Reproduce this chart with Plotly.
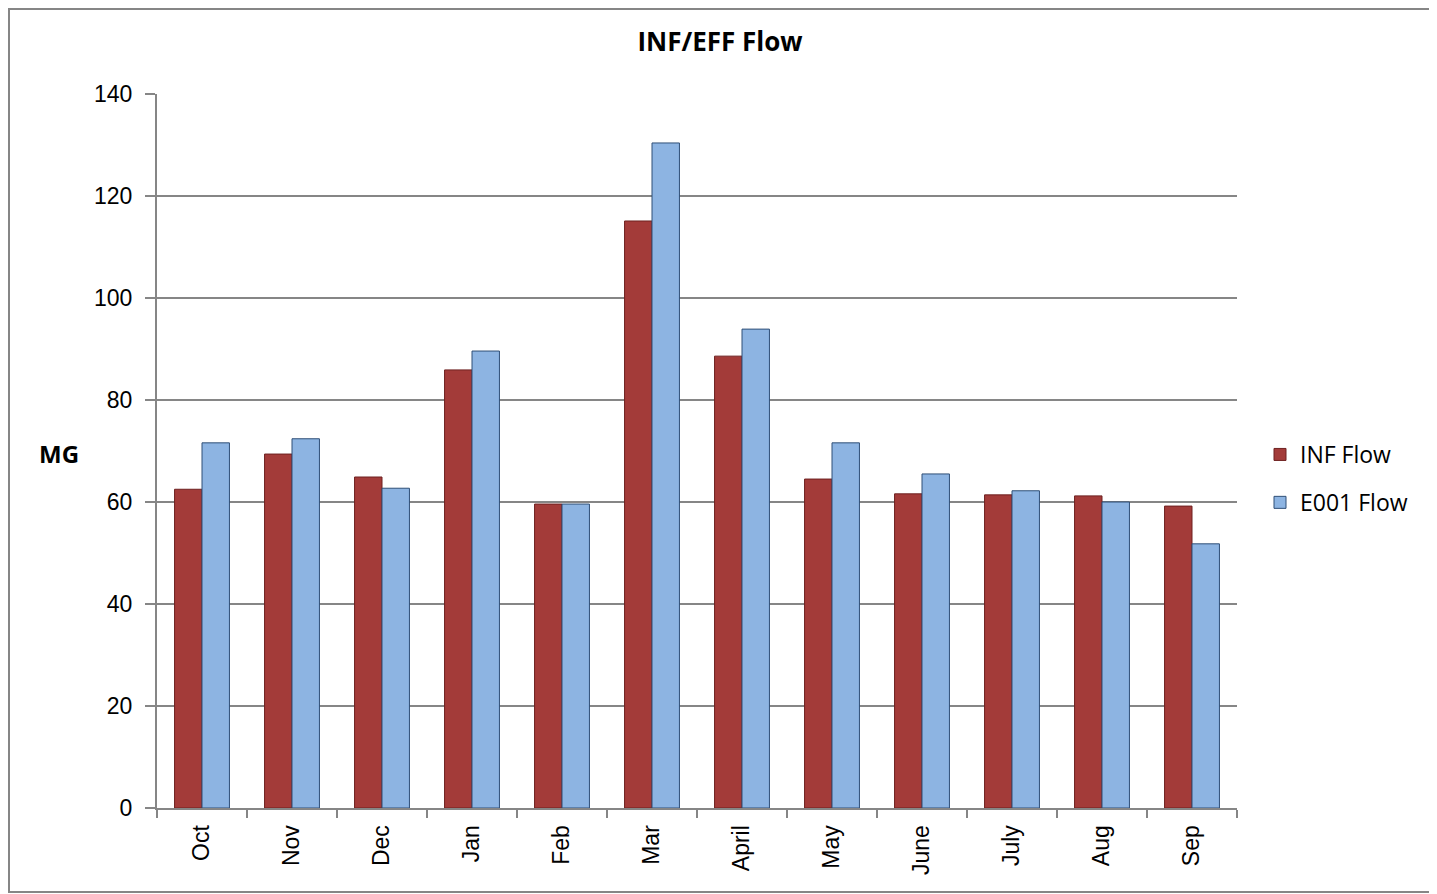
import plotly.graph_objects as go

months = ["Oct", "Nov", "Dec", "Jan", "Feb", "Mar", "April", "May", "June", "July", "Aug", "Sep"]
inf_flow = [62.5, 69.4, 64.9, 85.9, 59.6, 115.1, 88.6, 64.5, 61.6, 61.4, 61.2, 59.2]
e001_flow = [71.6, 72.4, 62.7, 89.6, 59.6, 130.4, 93.9, 71.6, 65.5, 62.2, 60.0, 51.8]

OFF = 8  # page body margin
W, H = 1437 - OFF, 894 - OFF
L, T = 157 - OFF, 94 - OFF
R = W - (1237 - OFF)
B = H - (808 - OFF)
pw = W - L - R
ph = H - T - B


def px(xp):
    return (xp - OFF - L) / pw


def py(yp):
    return 1 - (yp - OFF - T) / ph


fig = go.Figure()
fig.add_trace(go.Bar(
    x=months, y=inf_flow, name="INF Flow", legendgroup="a",
    marker=dict(color="#A33B39", line=dict(color="#6E2120", width=1)),
))
fig.add_trace(go.Bar(
    x=months, y=e001_flow, name="E001 Flow", legendgroup="b",
    marker=dict(color="#8DB4E2", line=dict(color="#2F4F77", width=1)),
))

fig.update_layout(
    width=W, height=H,
    margin=dict(l=L, r=R, t=T, b=B),
    paper_bgcolor="white", plot_bgcolor="white",
    barmode="group", bargap=0.39, bargroupgap=0,
    font=dict(family="Liberation Sans, Arial, sans-serif", size=23, color="black"),
    title=dict(text="<b>INF/EFF Flow</b>", x=(720 - OFF) / W, xanchor="center",
               y=1 - (42 - OFF) / H, yanchor="middle",
               font=dict(family="Open Sans, sans-serif", size=26, color="black")),
    showlegend=True,
    legend=dict(x=px(1260), xanchor="left", y=py(433), yanchor="top",
                traceorder="grouped", tracegroupgap=15,
                font=dict(family="Open Sans, sans-serif", size=23, color="black"),
                itemwidth=30, bgcolor="rgba(0,0,0,0)"),
    xaxis=dict(
        showline=True, linecolor="#868686", linewidth=2,
        ticks="outside", ticklen=8, tickcolor="#868686", tickwidth=2,
        tickson="boundaries", tickangle=-90, ticklabelstandoff=6,
        tickfont=dict(family="Liberation Sans, Arial, sans-serif", size=23),
        showgrid=False,
    ),
    yaxis=dict(
        range=[0, 140], dtick=20, tick0=0,
        showline=True, linecolor="#868686", linewidth=2,
        ticks="outside", ticklen=10, tickcolor="#868686", tickwidth=2,
        ticklabelstandoff=8,
        showgrid=True, gridcolor="#868686", gridwidth=2,
        tickfont=dict(family="Liberation Sans, Arial, sans-serif", size=23),
        zeroline=False,
    ),
    annotations=[dict(
        text="<b>MG</b>", xref="paper", yref="paper",
        x=px(59), y=py(453), xanchor="center", yanchor="middle",
        showarrow=False, font=dict(family="Open Sans, sans-serif", size=24, color="black"),
    )],
    shapes=[dict(
        type="rect", xref="paper", yref="paper",
        x0=px(OFF + 1), x1=px(1434),
        y0=py(892), y1=py(OFF + 1),
        line=dict(color="#868686", width=2), fillcolor="rgba(0,0,0,0)", layer="below",
    )],
)

fig.write_html("out.html")
